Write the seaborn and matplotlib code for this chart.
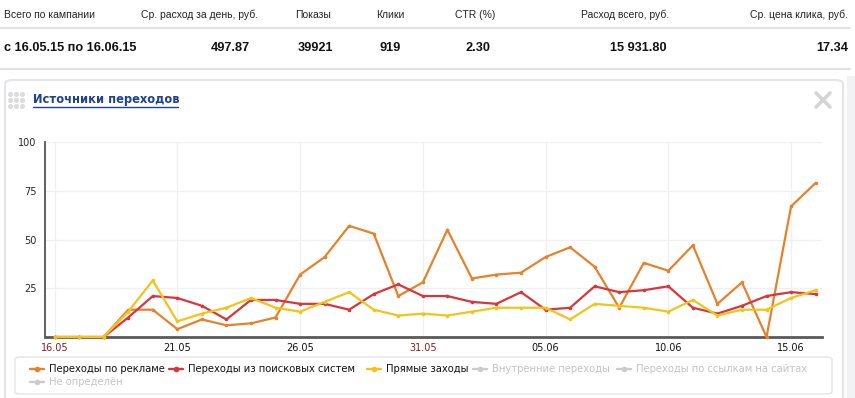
# %%
import numpy as np
import pandas as pd
import seaborn as sns
import matplotlib.pyplot as plt
from matplotlib.lines import Line2D
from matplotlib.patches import FancyBboxPatch, Rectangle

sns.set_style("white")
plt.rcParams['font.family'] = ['DejaVu Sans']

# %%
# данные за период 16.05 - 16.06
days = ['16.05', '17.05', '18.05', '19.05', '20.05', '21.05', '22.05', '23.05',
        '24.05', '25.05', '26.05', '27.05', '28.05', '29.05', '30.05', '31.05',
        '01.06', '02.06', '03.06', '04.06', '05.06', '06.06', '07.06', '08.06',
        '09.06', '10.06', '11.06', '12.06', '13.06', '14.06', '15.06', '16.06']
reklama = [0, 0, 0, 14, 14, 4, 9, 6, 7, 10, 32, 41, 57, 53, 21, 28,
           55, 30, 32, 33, 41, 46, 36, 15, 38, 34, 47, 17, 28, 0, 67, 79]
poisk = [0, 0, 0, 10, 21, 20, 16, 9, 19, 19, 17, 17, 14, 22, 27, 21,
         21, 18, 17, 23, 14, 15, 26, 23, 24, 26, 15, 12, 16, 21, 23, 22]
pryamye = [0, 0, 0, 13, 29, 8, 12, 15, 20, 15, 13, 18, 23, 14, 11, 12,
           11, 13, 15, 15, 15, 9, 17, 16, 15, 13, 19, 11, 14, 14, 20, 24]

series_names = ['Переходы по рекламе', 'Переходы из поисковых систем', 'Прямые заходы']
off_names = ['Внутренние переходы', 'Переходы по ссылкам на сайтах', 'Не определён']
colors = {'Переходы по рекламе': '#e5822b',
          'Переходы из поисковых систем': '#d6363c',
          'Прямые заходы': '#f2c41a'}

head = ['Всего по кампании', 'Ср. расход за день, руб.', 'Показы', 'Клики',
        'CTR (%)', 'Расход всего, руб.', 'Ср. цена клика, руб.']
vals = ['с 16.05.15 по 16.06.15', '497.87', '39921', '919', '2.30', '15 931.80', '17.34']

df = pd.DataFrame({'day': list(range(len(days))) * 3,
                   'value': reklama + poisk + pryamye,
                   'src': np.repeat(series_names, len(days))})

# %%
W, H = 855, 398
fig = plt.figure(figsize=(W / 100, H / 100), dpi=100)
fig.patch.set_facecolor('white')


def fx(x):
    return x / W


def fy(y):
    return 1 - y / H


# таблица сверху
narrow = ['Liberation Sans Narrow', 'Liberation Sans', 'DejaVu Sans']
head_x = [4, 199, 313, 390, 475, 625, 848]
head_ha = ['left', 'center', 'center', 'center', 'center', 'center', 'right']
val_x = [4, 250, 315, 401, 490, 667, 848]
val_ha = ['left', 'right', 'center', 'right', 'right', 'right', 'right']
for t, x, ha in zip(head, head_x, head_ha):
    fig.text(fx(x), fy(15), t, ha=ha, va='center', fontsize=7.5, color='#222222', family=narrow)
for t, x, ha in zip(vals, val_x, val_ha):
    fig.text(fx(x), fy(48), t, ha=ha, va='center', fontsize=9.2, fontweight='bold',
             color='#111111', family=narrow)
for y in (28, 69):
    fig.add_artist(Line2D([0, fx(850)], [fy(y), fy(y)], color='#e2e2e2', lw=1.5))

# панель (под осями)
fig.add_artist(Rectangle((fx(847), 0), fx(8), fy(76), color='#f2f2f5', lw=0, zorder=-5))
fig.add_artist(FancyBboxPatch((fx(5), fy(405)), fx(838), fy(80) - fy(405),
                              boxstyle='round,pad=0,rounding_size=0.01',
                              fc='white', ec='#e6e6ea', lw=1.6, zorder=-4))
for i in range(3):
    for j in range(3):
        fig.add_artist(Line2D([fx(10 + 6 * i)], [fy(94 + 6 * j)], marker='o', ms=2.6,
                              color='#dcdcdc', lw=0))
fig.text(fx(33), fy(100), 'Источники переходов', ha='left', va='center', fontsize=8.3,
         fontweight='bold', color='#1e3f9c')
fig.add_artist(Line2D([fx(33), fx(178)], [fy(107), fy(107)], color='#1e3f9c', lw=1))
fig.add_artist(Line2D([fx(816), fx(830)], [fy(93), fy(107)], color='#d5d5d5', lw=2.6))
fig.add_artist(Line2D([fx(816), fx(830)], [fy(107), fy(93)], color='#d5d5d5', lw=2.6))

# %%
ax = fig.add_axes([fx(45), fy(337), fx(822) - fx(45), fy(142) - fy(337)])
ax.set_zorder(2)
ax.patch.set_alpha(0)
sns.lineplot(data=df, x='day', y='value', hue='src', palette=colors, ax=ax,
             marker='o', markersize=2.6, markeredgewidth=0, linewidth=1.6,
             legend=False, zorder=3)
for ln in ax.lines:
    ln.set_clip_on(False)

ax.set_xlim(-0.39, 31.26)
ax.set_ylim(0, 100)
ax.set_yticks([25, 50, 75, 100])
ax.set_xticks(range(0, 31, 5))
ax.set_xticklabels([days[i] for i in range(0, 31, 5)])
for lab, d in zip(ax.get_xticklabels(), range(0, 31, 5)):
    lab.set_color('#8b1c1c' if d in (0, 15) else '#111111')
ax.tick_params(axis='both', length=0, labelsize=7)
ax.tick_params(axis='y', pad=6)
ax.tick_params(axis='x', pad=4)
ax.grid(True, color='#f0f0f0', lw=1)
ax.set_xlabel('')
ax.set_ylabel('')
for s in ('top', 'right'):
    ax.spines[s].set_visible(False)
ax.spines['left'].set_color('#444444')
ax.spines['left'].set_linewidth(1.2)
ax.spines['bottom'].set_color('#5a5a5a')
ax.spines['bottom'].set_linewidth(2)

# %%
# легенда
fig.add_artist(FancyBboxPatch((fx(15), fy(394)), fx(817), fy(357) - fy(394),
                              boxstyle='round,pad=0,rounding_size=0.006',
                              fc='white', ec='#e4e4e4', lw=1, zorder=-3))
leg_items = [(series_names[0], colors[series_names[0]], '#111111', 30, 369),
             (series_names[1], colors[series_names[1]], '#111111', 169, 369),
             (series_names[2], colors[series_names[2]], '#111111', 367, 369),
             (off_names[0], '#cccccc', '#c4c4c4', 473, 369),
             (off_names[1], '#cccccc', '#c4c4c4', 617, 369),
             (off_names[2], '#cccccc', '#c4c4c4', 30, 382)]
for name, c, tc, x, y in leg_items:
    fig.add_artist(Line2D([fx(x), fx(x + 14)], [fy(y), fy(y)], color=c, lw=1.7))
    fig.add_artist(Line2D([fx(x + 7)], [fy(y)], marker='o', ms=3.0, color=c, lw=0))
    fig.text(fx(x + 19), fy(y), name, ha='left', va='center', fontsize=7.2, color=tc)

fig.savefig('out.png', dpi=100)
